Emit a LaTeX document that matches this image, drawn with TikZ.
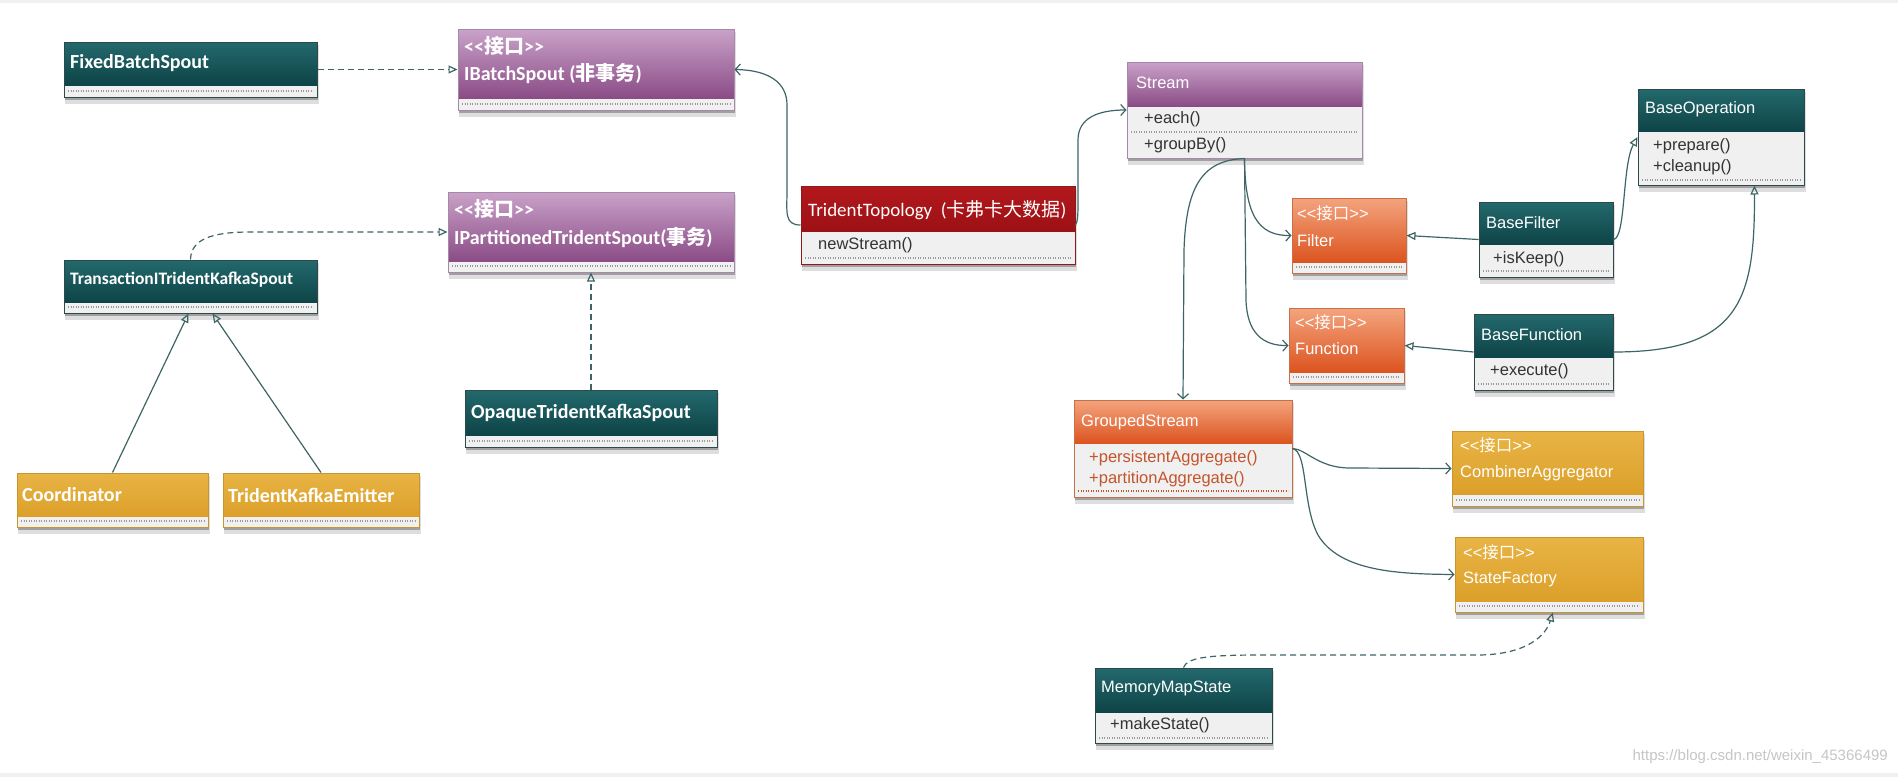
\documentclass[tikz,border=0pt]{standalone}
\usepackage{fontspec}
\setmainfont{Liberation Sans}
\newfontfamily\gill{Carlito}
\newfontfamily\cjk{Noto Sans CJK SC}
\usetikzlibrary{arrows.meta,fit,calc}

\definecolor{tealA}{HTML}{23696D}
\definecolor{tealB}{HTML}{0E4447}
\definecolor{tealD}{HTML}{2C4A4C}
\definecolor{purpA}{HTML}{C9A2C9}
\definecolor{purpB}{HTML}{8B4C86}
\definecolor{purpD}{HTML}{A888A8}
\definecolor{redA}{HTML}{B3181D}
\definecolor{redB}{HTML}{9C1115}
\definecolor{redD}{HTML}{8C1A1A}
\definecolor{orngA}{HTML}{F4A47E}
\definecolor{orngB}{HTML}{DC5420}
\definecolor{orngD}{HTML}{C6704A}
\definecolor{goldA}{HTML}{E8B445}
\definecolor{goldB}{HTML}{DCA02A}
\definecolor{goldD}{HTML}{C9962E}
\definecolor{bodyc}{HTML}{F0F0F0}
\definecolor{linec}{HTML}{3E6466}
\definecolor{bodytxt}{HTML}{333333}
\definecolor{gstxt}{HTML}{C4542C}
\definecolor{dotc}{HTML}{9A9A9A}

\newcommand\zh[1]{{\cjk #1}}
\newcommand\stereo{<\kern0pt<\zh{接口}>\kern0pt>}

% #1 name, #2 x1, #3 y1, #4 x2, #5 y2, #6 header bottom, #7 colour prefix
\newcommand\umlbox[7]{%
  \fill[black,opacity=.13] ({#2+1},{#3+3}) rectangle ({#4+2},{#5+7});
  \fill[black,opacity=.28] ({#2+1},{#3+2}) rectangle ({#4+1},{#5+3});
  \fill[bodyc] (#2,#6) rectangle (#4,#5);
  \shade[top color=#7A, bottom color=#7B] (#2,#3) rectangle (#4,#6);
  \node[fit={(#2,#3) (#4,#5)}, inner sep=0pt, draw=#7D, line width=1pt] (#1) {};
}
% #1 x1, #2 x2, #3 y, #4 colour
\newcommand\dotrule[4]{\draw[#4, line width=1.3pt, dash pattern=on 1.3pt off 1.2pt] ({#1+4},#3) -- ({#2-4},#3);}

\tikzset{
  hl/.style={anchor=west, inner sep=0pt, text=white, font=\gill\bfseries\fontsize{20}{22}\selectfont},
  hr/.style={anchor=west, inner sep=0pt, text=white, font=\fontsize{16.5}{18}\selectfont},
  mt/.style={anchor=west, inner sep=0pt, text=bodytxt, font=\fontsize{16.5}{18}\selectfont},
  conn/.style={draw=linec, line width=1.2pt},
  gen/.style={conn, -{Triangle[open, length=9pt, width=8pt]}},
  realize/.style={gen, dash pattern=on 6pt off 4pt},
  nav/.style={conn, -{Straight Barb[length=5pt, width=11pt]}},
}

\begin{document}
\begin{tikzpicture}[x=1pt,y=-1pt]
\useasboundingbox (0,0) rectangle (1898,777);
\fill[white] (0,0) rectangle (1898,777);
\fill[gray!12] (0,0) rectangle (1898,3);
\fill[gray!12] (0,773) rectangle (1898,777);

% ---------- left part ----------
\umlbox{fbs}{64}{42}{317}{97}{85}{teal}
\dotrule{64}{317}{91}{dotc}
\node[hl] (fbs-t) at (70,63) {FixedBatchSpout};

\umlbox{ibs}{458}{29}{734}{110}{98}{purp}
\dotrule{458}{734}{104}{dotc}
\node[hl] (ibs-s) at (464,46) {\stereo};
\node[hl] (ibs-t) at (464,74) {IBatchSpout (\zh{非事务})};

\umlbox{ipt}{448}{192}{734}{272}{261}{purp}
\dotrule{448}{734}{266}{dotc}
\node[hl] (ipt-s) at (454,209) {\stereo};
\node[hl] (ipt-t) at (454,238) {IPartitionedTridentSpout(\zh{事务})};

\umlbox{tik}{64}{260}{317}{313}{302}{teal}
\dotrule{64}{317}{307}{dotc}
\node[hl, font=\gill\bfseries\fontsize{17.5}{19}\selectfont] (tik-t) at (70,280) {TransactionITridentKafkaSpout};

\umlbox{ots}{465}{390}{717}{447}{435}{teal}
\dotrule{465}{717}{441}{dotc}
\node[hl] (ots-t) at (471,413) {OpaqueTridentKafkaSpout};

\umlbox{coord}{17}{473}{208}{527}{516}{gold}
\dotrule{17}{208}{521}{dotc}
\node[hl] (coord-t) at (22,495) {Coordinator};

\umlbox{tke}{223}{473}{419}{527}{516}{gold}
\dotrule{223}{419}{521}{dotc}
\node[hl] (tke-t) at (228,495) {TridentKafkaEmitter};

% ---------- middle ----------
\umlbox{tt}{801}{186}{1075}{264}{231}{red}
\dotrule{801}{1075}{258}{dotc}
\node[hl, font=\gill\fontsize{19}{21}\selectfont] (tt-t) at (808,210) {TridentTopology\ \ (\zh{卡弗卡大数据})};
\node[mt] (tt-m) at (818,245) {newStream()};

\umlbox{stream}{1127}{62}{1362}{158}{106}{purp}
\dotrule{1127}{1362}{132}{dotc}
\node[hr] (stream-t) at (1136,83) {Stream};
\node[mt] (stream-m1) at (1144,119) {+each()};
\node[mt] (stream-m2) at (1144,145) {+groupBy()};

% ---------- right part ----------
\umlbox{bop}{1638}{89}{1804}{185}{131}{teal}
\dotrule{1638}{1804}{180}{dotc}
\node[hr] (bop-t) at (1645,109) {BaseOperation};
\node[mt] (bop-m1) at (1653,146) {+prepare()};
\node[mt] (bop-m2) at (1653,167) {+cleanup()};

\umlbox{filter}{1292}{198}{1406}{273}{262}{orng}
\dotrule{1292}{1406}{267}{dotc}
\node[hr] (filter-s) at (1297,213) {\stereo};
\node[hr] (filter-t) at (1297,241) {Filter};

\umlbox{function}{1289}{308}{1404}{383}{372}{orng}
\dotrule{1289}{1404}{377}{dotc}
\node[hr] (function-s) at (1295,322) {\stereo};
\node[hr] (function-t) at (1295,349) {Function};

\umlbox{bf}{1479}{202}{1613}{277}{244}{teal}
\dotrule{1479}{1613}{271}{dotc}
\node[hr] (bf-t) at (1486,223) {BaseFilter};
\node[mt] (bf-m) at (1493,259) {+isKeep()};

\umlbox{bfn}{1474}{314}{1613}{390}{357}{teal}
\dotrule{1474}{1613}{384}{dotc}
\node[hr] (bfn-t) at (1481,335) {BaseFunction};
\node[mt] (bfn-m) at (1490,371) {+execute()};

\umlbox{gs}{1074}{400}{1292}{497}{443}{orng}
\dotrule{1074}{1292}{491}{gstxt}
\node[hr] (gs-t) at (1081,422) {GroupedStream};
\node[mt, text=gstxt] (gs-m1) at (1089,458) {+persistentAggregate()};
\node[mt, text=gstxt] (gs-m2) at (1089,479) {+partitionAggregate()};

\umlbox{ca}{1452}{431}{1643}{506}{494}{gold}
\dotrule{1452}{1643}{500}{dotc}
\node[hr] (ca-s) at (1460,445) {\stereo};
\node[hr] (ca-t) at (1460,473) {CombinerAggregator};

\umlbox{sf}{1455}{537}{1643}{612}{601}{gold}
\dotrule{1455}{1643}{606}{dotc}
\node[hr] (sf-s) at (1463,552) {\stereo};
\node[hr] (sf-t) at (1463,579) {StateFactory};

\umlbox{mms}{1095}{668}{1272}{743}{712}{teal}
\dotrule{1095}{1272}{738}{dotc}
\node[hr] (mms-t) at (1101,688) {MemoryMapState};
\node[mt] (mms-m) at (1110,725) {+makeState()};

\node[anchor=east, inner sep=0pt, text=gray!45, font=\fontsize{15}{16}\selectfont] (wm) at (1888,757) {https://blog.csdn.net/weixin\_45366499};

% ---------- connectors ----------
\draw[realize] (fbs.east) -- (ibs.west);
\draw[realize] (tik.north) .. controls (191,240) and (210,232) .. (250,232) -- (ipt.west);
\draw[realize] (ots.north) -- (ipt.south);
\draw[gen] (coord.north) -- ([xshift=-2pt]tik.south);
\draw[gen] (tke.north) -- ([xshift=22pt]tik.south);

\draw[nav] (tt.west) .. controls (784,225) and (787,212) .. (787,190) -- (787,105) .. controls (787,82) and (768,70) .. (ibs.east);
\draw[nav] (tt.east) .. controls (1078,222) and (1078,212) .. (1078,200) -- (1078,140) .. controls (1078,118) and (1098,110) .. (stream.west);
\draw[nav] (stream.south) .. controls (1245,215) and (1258,236) .. (filter.west);
\draw[nav] (stream.south) -- (1246,300) .. controls (1247,332) and (1262,346) .. (function.west);
\draw[nav] (stream.south) .. controls (1200,160) and (1186,190) .. (1184,250) -- (gs.north);

\draw[gen] (bf.west) -- (filter.east);
\draw[gen] (bfn.west) -- (function.east);
\draw[gen] (bf.east) .. controls (1626,238) and (1622,165) .. (bop.west);
\draw[gen] (bfn.east) .. controls (1740,352) and (1755,300) .. ($(bop.south west)!0.7!(bop.south east)$);

\draw[nav] (gs.east) .. controls (1306,449) and (1318,468) .. (1350,468) -- (ca.west);
\draw[nav] (gs.east) .. controls (1308,452) and (1302,505) .. (1318,535) .. controls (1340,572) and (1400,574) .. (sf.west);
\draw[realize] (mms.north) .. controls (1187,658) and (1205,655) .. (1260,655) -- (1480,655) .. controls (1528,654) and (1546,635) .. ($(sf.south west)!0.52!(sf.south east)$);
\end{tikzpicture}
\end{document}
